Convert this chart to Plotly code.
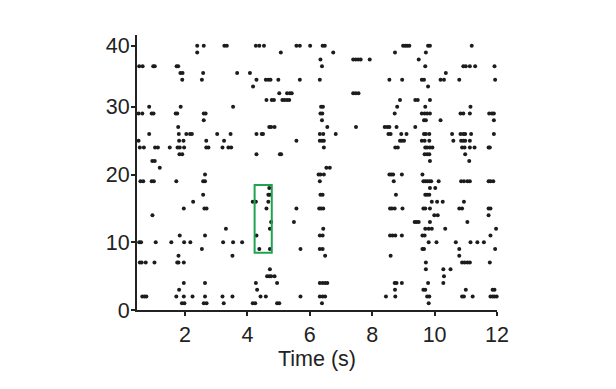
import plotly.graph_objects as go

# Spike times (s) for each trial (trial number = row, 1 at bottom)
trial_01 = [1.90, 1.98, 2.60, 2.69, 3.24, 4.17, 4.25, 4.95, 5.02, 6.39, 9.81]
trial_02 = [0.63, 0.70, 0.76, 1.72, 1.96, 2.24, 2.64, 3.20, 3.52, 4.42, 4.59, 5.70, 6.32, 6.41, 6.49,
            8.44, 8.74, 9.76, 9.83, 10.88, 10.94, 11.22, 11.79, 11.86, 11.92, 11.99]
trial_03 = [1.81, 4.31, 8.73, 9.64, 9.70, 11.00, 11.86, 11.92]
trial_04 = [1.96, 2.64, 4.27, 4.95, 6.32, 6.41, 6.49, 6.56, 8.72, 8.78, 8.95, 9.79, 10.28]
trial_05 = [4.63, 4.70, 4.76, 4.87, 10.30]
trial_06 = [4.72, 9.72, 10.28, 10.51]
trial_07 = [0.55, 0.61, 0.74, 1.02, 1.75, 1.79, 1.96, 9.72, 10.88, 10.96, 11.05, 11.13, 11.77]
trial_08 = [1.79, 3.52, 6.49, 8.59, 10.79]
trial_09 = [2.54, 4.38, 4.72, 5.70, 6.32, 6.41, 9.61, 9.66, 10.79, 11.94]
trial_10 = [0.53, 0.59, 1.06, 1.56, 1.97, 2.17, 3.22, 3.54, 3.83, 9.81, 10.06, 10.68, 11.15, 11.37, 11.58]
trial_11 = [1.83, 2.64, 4.29, 6.32, 6.41, 8.57, 8.65, 8.74, 8.95, 9.61, 9.68, 11.79]
trial_12 = [3.31, 4.72, 6.43, 9.70, 9.81, 9.91, 10.34, 11.97]
trial_13 = [4.76, 5.49, 9.36, 9.42, 9.49, 9.85, 11.05]
trial_14 = [0.955, 9.99, 10.10, 11.73]
trial_15 = [1.96, 2.62, 2.69, 4.61, 5.57, 6.30, 6.36, 6.43, 8.57, 8.63, 8.72, 8.97, 9.64, 9.70, 9.85,
            10.79, 10.88, 11.73, 11.79]
trial_16 = [2.26, 4.17, 4.27, 4.67, 9.91, 10.08, 10.26, 10.94]
trial_17 = [2.58, 4.67, 4.72, 6.34, 6.41, 8.76, 9.70, 9.76, 9.83]
trial_18 = [4.70, 9.85, 10.02]
trial_19 = [0.57, 0.66, 0.93, 1.00, 1.72, 2.58, 2.64, 6.32, 8.69, 9.64, 9.70, 9.76, 9.83, 9.89, 10.13,
            10.85, 10.94, 11.05, 11.13, 11.73, 11.79, 11.88]
trial_20 = [2.64, 6.28, 6.34, 6.45, 8.55, 8.61, 8.67, 8.95, 9.61]
trial_21 = [1.19, 6.53, 6.64]
trial_22 = [0.95, 1.03, 9.85, 11.11]
trial_23 = [1.82, 1.91, 4.29, 5.04, 5.08, 9.68, 9.76, 9.83, 10.98]
trial_24 = [0.55, 0.68, 1.04, 1.13, 1.51, 1.76, 1.83, 1.97, 2.68, 2.75, 3.20, 3.39, 3.48, 6.45,
            8.74, 8.82, 9.70, 9.76, 9.85, 9.93, 10.88, 10.96, 11.13, 11.28, 11.73, 11.77]
trial_25 = [0.51, 1.81, 1.95, 2.68, 3.25, 5.57, 6.32, 6.39, 6.45, 8.89, 8.95, 9.02, 9.59, 9.68, 9.83,
            10.60, 10.85, 10.92, 10.98, 11.13]
trial_26 = [0.85, 1.80, 2.04, 2.16, 2.22, 3.03, 3.46, 4.29, 4.46, 4.50, 6.32, 6.43, 6.83, 8.52, 8.59,
            8.93, 9.10, 9.66, 9.72, 9.83, 10.56, 10.83, 10.92, 10.98, 11.17, 11.90]
trial_27 = [1.78, 4.70, 4.76, 4.87, 6.56, 7.48, 8.40, 8.48, 8.55, 8.78, 9.38]
trial_28 = [2.60, 6.39, 9.66, 9.72, 10.19, 11.90]
trial_29 = [0.51, 0.63, 0.93, 0.99, 1.70, 1.75, 2.60, 2.66, 6.34, 6.40, 8.72, 9.59, 9.68, 9.76, 9.85,
            10.83, 10.92, 11.13, 11.75, 11.84, 11.90]
trial_30 = [0.85, 1.86, 3.54, 6.36, 6.42, 8.80, 9.70, 11.15]
trial_31 = [4.61, 4.78, 4.85, 5.12, 5.19, 5.27, 5.34, 8.89, 9.38, 9.46, 9.85]
trial_32 = [5.02, 5.27, 5.36, 5.42, 7.39, 7.47, 7.56]
trial_33 = [4.18, 9.79]
trial_34 = [1.91, 2.54, 4.29, 4.59, 4.67, 4.74, 4.99, 5.68, 6.32, 8.55, 8.96, 9.59, 9.66, 10.19, 10.30,
            10.79, 11.94]
trial_35 = [1.85, 1.92, 2.58, 3.67, 4.08, 10.36]
trial_36 = [0.53, 0.64, 0.98, 1.03, 1.73, 1.78, 6.39, 9.70, 10.92, 11.00, 11.13, 11.30, 11.92]
trial_37 = [6.34, 7.39, 7.47, 7.55, 7.63, 7.92, 9.49]
trial_38 = [2.39, 5.07, 6.75, 8.73, 9.72]
trial_39 = [2.39, 2.60, 3.26, 3.34, 4.27, 4.38, 4.53, 5.57, 5.68, 6.01, 6.41, 6.48,
            8.99, 9.06, 9.12, 9.19, 9.79, 9.85, 11.19]

all_trials = [trial_01, trial_02, trial_03, trial_04, trial_05, trial_06, trial_07, trial_08,
              trial_09, trial_10, trial_11, trial_12, trial_13, trial_14, trial_15, trial_16,
              trial_17, trial_18, trial_19, trial_20, trial_21, trial_22, trial_23, trial_24,
              trial_25, trial_26, trial_27, trial_28, trial_29, trial_30, trial_31, trial_32,
              trial_33, trial_34, trial_35, trial_36, trial_37, trial_38, trial_39]

# Highlighted window (time s, trial)
box_time = [4.23, 4.78]
box_trial = [8.45, 18.45]

x_tick_vals = [2, 4, 6, 8, 10, 12]
y_tick_vals = [0, 10, 20, 30, 39]
y_tick_text = ["0", "10", "20", "30", "40"]

xs, ys = [], []
for i, times in enumerate(all_trials, start=1):
    xs.extend(times)
    ys.extend([i] * len(times))

FONT = "Liberation Sans, Arial, Helvetica, sans-serif"

fig = go.Figure()
fig.add_trace(go.Scatter(
    x=xs, y=ys, mode="markers",
    marker=dict(size=4, color="#1c1c1c", line=dict(width=0)),
    cliponaxis=False, hoverinfo="x+y", showlegend=False,
))

fig.add_shape(type="rect", xref="x", yref="y",
              x0=box_time[0], x1=box_time[1], y0=box_trial[0], y1=box_trial[1],
              line=dict(color="#1fa352", width=2), fillcolor="rgba(0,0,0,0)")

fig.update_layout(
    width=616, height=389,
    margin=dict(l=137, r=119, t=35, b=79),
    paper_bgcolor="white", plot_bgcolor="white",
    font=dict(family=FONT, size=21.5, color="#222222"),
    showlegend=False,
)
fig.update_xaxes(
    range=[0.46, 12.0], tickvals=x_tick_vals, showgrid=False, zeroline=False,
    showline=True, linecolor="#222222", linewidth=2,
    ticks="outside", ticklen=4, tickwidth=1.5, tickcolor="#222222",
    title=dict(text="Time (s)", standoff=2, font=dict(size=21.5)),
)
fig.update_yaxes(
    range=[0, 40.6], tickvals=y_tick_vals, ticktext=y_tick_text, showgrid=False, zeroline=False,
    showline=True, linecolor="#222222", linewidth=2,
    ticks="outside", ticklen=4, tickwidth=1.5, tickcolor="#222222",
    ticklabelstandoff=-3,
)

fig.write_html("out.html")
